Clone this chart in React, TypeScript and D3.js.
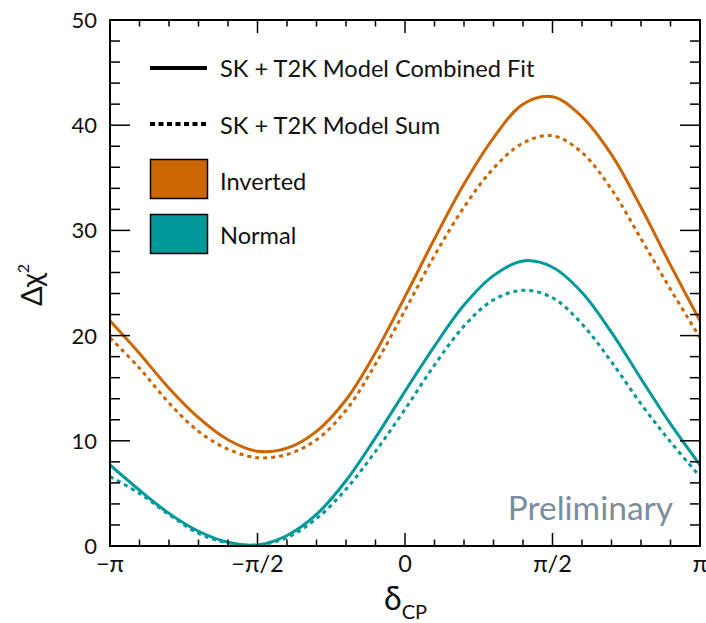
import React from "react";
import * as d3 from "d3";

// δCP in units of π
const deltaGrid = [-1, -0.9, -0.8, -0.7, -0.6, -0.5, -0.4, -0.3, -0.2, -0.1, 0, 0.1, 0.2, 0.3, 0.4, 0.5, 0.6, 0.7, 0.8, 0.9, 1];

const invertedCombined = [21.4, 18.3, 15.0, 12.2, 10.1, 9.0, 9.3, 10.9, 13.9, 18.4, 23.7, 29.2, 34.4, 38.8, 42.0, 42.7, 40.8, 37.2, 32.2, 26.7, 21.4];
const invertedSum = [19.8, 16.9, 13.6, 10.9, 9.2, 8.4, 8.7, 10.1, 12.9, 17.3, 22.4, 27.6, 32.2, 35.9, 38.3, 39.0, 37.4, 33.9, 29.2, 24.4, 19.8];
const normalCombined = [7.7, 5.3, 3.1, 1.4, 0.35, 0.1, 1.0, 3.0, 6.2, 10.3, 14.7, 19.0, 22.9, 25.7, 27.1, 26.5, 24.1, 20.3, 15.9, 11.6, 7.7];
const normalSum = [6.6, 5.0, 3.0, 1.2, 0.3, 0.1, 0.8, 2.6, 5.4, 9.0, 13.0, 17.2, 20.9, 23.4, 24.3, 23.6, 21.1, 17.5, 13.5, 9.9, 6.6];

const xMajorTicks = [-1, -0.5, 0, 0.5, 1];
const xTickLabels = ["\u2212\u03c0", "\u2212\u03c0/2", "0", "\u03c0/2", "\u03c0"];
const yMajorTicks = [0, 10, 20, 30, 40, 50];

const ORANGE = "#cc6600";
const TEAL = "#009999";
const FONT = "Lato, 'Open Sans', sans-serif";

const L = 110, R = 700, T = 20, B = 546;

export default function App() {
  const x = d3.scaleLinear().domain([-1, 1]).range([L, R]);
  const y = d3.scaleLinear().domain([0, 50]).range([B, T]);

  const line = d3
    .line<[number, number]>()
    .x((d) => x(d[0]))
    .y((d) => y(d[1]))
    .curve(d3.curveCatmullRom.alpha(0.5));

  const mk = (vals: number[]) => line(deltaGrid.map((d, i) => [d, vals[i]] as [number, number])) || "";

  const xMinor = d3.range(-1, 1.0001, 0.1).map((v) => Math.round(v * 10) / 10);
  const yMinor = d3.range(0, 50.001, 2);

  const series = [
    { vals: invertedCombined, color: ORANGE, dash: undefined },
    { vals: invertedSum, color: ORANGE, dash: "4 4" },
    { vals: normalCombined, color: TEAL, dash: undefined },
    { vals: normalSum, color: TEAL, dash: "4 4" },
  ];

  return (
    <svg width={706} height={623} style={{ position: "absolute", left: 0, top: 0, background: "#fff" }}>
      <defs>
        <clipPath id="plotclip">
          <rect x={L} y={T} width={R - L} height={B - T} />
        </clipPath>
      </defs>
      <rect x={0} y={0} width={706} height={623} fill="#fff" />

      {/* curves */}
      <g clipPath="url(#plotclip)">
        {series.map((s, i) => (
          <path key={i} d={mk(s.vals)} fill="none" stroke={s.color} strokeWidth={3} strokeDasharray={s.dash} />
        ))}
      </g>

      {/* Preliminary */}
      <text x={673} y={520} textAnchor="end" fontFamily={FONT} fontSize={33.5} fill="#7b8da0">
        Preliminary
      </text>

      {/* ticks */}
      <g stroke="#000" strokeWidth={1.5}>
        {xMinor.map((v, i) => {
          const major = xMajorTicks.some((m) => Math.abs(m - v) < 1e-6);
          const len = major ? 13 : 6.5;
          return (
            <g key={"xt" + i}>
              <line x1={x(v)} x2={x(v)} y1={B} y2={B - len} />
              <line x1={x(v)} x2={x(v)} y1={T} y2={T + len} />
            </g>
          );
        })}
        {yMinor.map((v, i) => {
          const major = v % 10 === 0;
          const len = major ? 20 : 10;
          return (
            <g key={"yt" + i}>
              <line x1={L} x2={L + len} y1={y(v)} y2={y(v)} />
              <line x1={R} x2={R - len} y1={y(v)} y2={y(v)} />
            </g>
          );
        })}
      </g>

      {/* frame */}
      <rect x={L} y={T} width={R - L} height={B - T} fill="none" stroke="#000" strokeWidth={2} />

      {/* tick labels */}
      {yMajorTicks.map((v) => (
        <text key={"yl" + v} x={97} y={y(v) + 8} textAnchor="end" fontFamily={FONT} fontSize={22} fill="#111">
          {v}
        </text>
      ))}
      {xMajorTicks.map((v, i) => (
        <text key={"xl" + v} x={x(v)} y={572} textAnchor="middle" fontFamily={FONT} fontSize={23.5} fill="#111">
          {xTickLabels[i]}
        </text>
      ))}

      {/* axis titles */}
      <text x={384} y={610} fontFamily={FONT} fontSize={32} fill="#111">
        δ
        <tspan fontSize={20} dy={9}>CP</tspan>
      </text>
      <text transform="translate(42,306) rotate(-90)" fontFamily={FONT} fontSize={29} fill="#111">
        Δχ
        <tspan fontSize={16} dy={-13}>2</tspan>
      </text>

      {/* legend */}
      <line x1={150} x2={207} y1={68} y2={68} stroke="#000" strokeWidth={4} />
      <text x={220} y={77} fontFamily={FONT} fontSize={23.6} fill="#111">
        SK + T2K Model Combined Fit
      </text>
      <line x1={150} x2={207} y1={124} y2={124} stroke="#000" strokeWidth={4} strokeDasharray="5 3.5" />
      <text x={220} y={134} fontFamily={FONT} fontSize={23.6} fill="#111">
        SK + T2K Model Sum
      </text>
      <rect x={150.5} y={159.5} width={57} height={39} fill={ORANGE} stroke="#000" strokeWidth={1.5} />
      <text x={220} y={190} fontFamily={FONT} fontSize={23.6} fill="#111">
        Inverted
      </text>
      <rect x={150.5} y={214.5} width={57} height={39} fill={TEAL} stroke="#000" strokeWidth={1.5} />
      <text x={220} y={244} fontFamily={FONT} fontSize={23.6} fill="#111">
        Normal
      </text>
    </svg>
  );
}
